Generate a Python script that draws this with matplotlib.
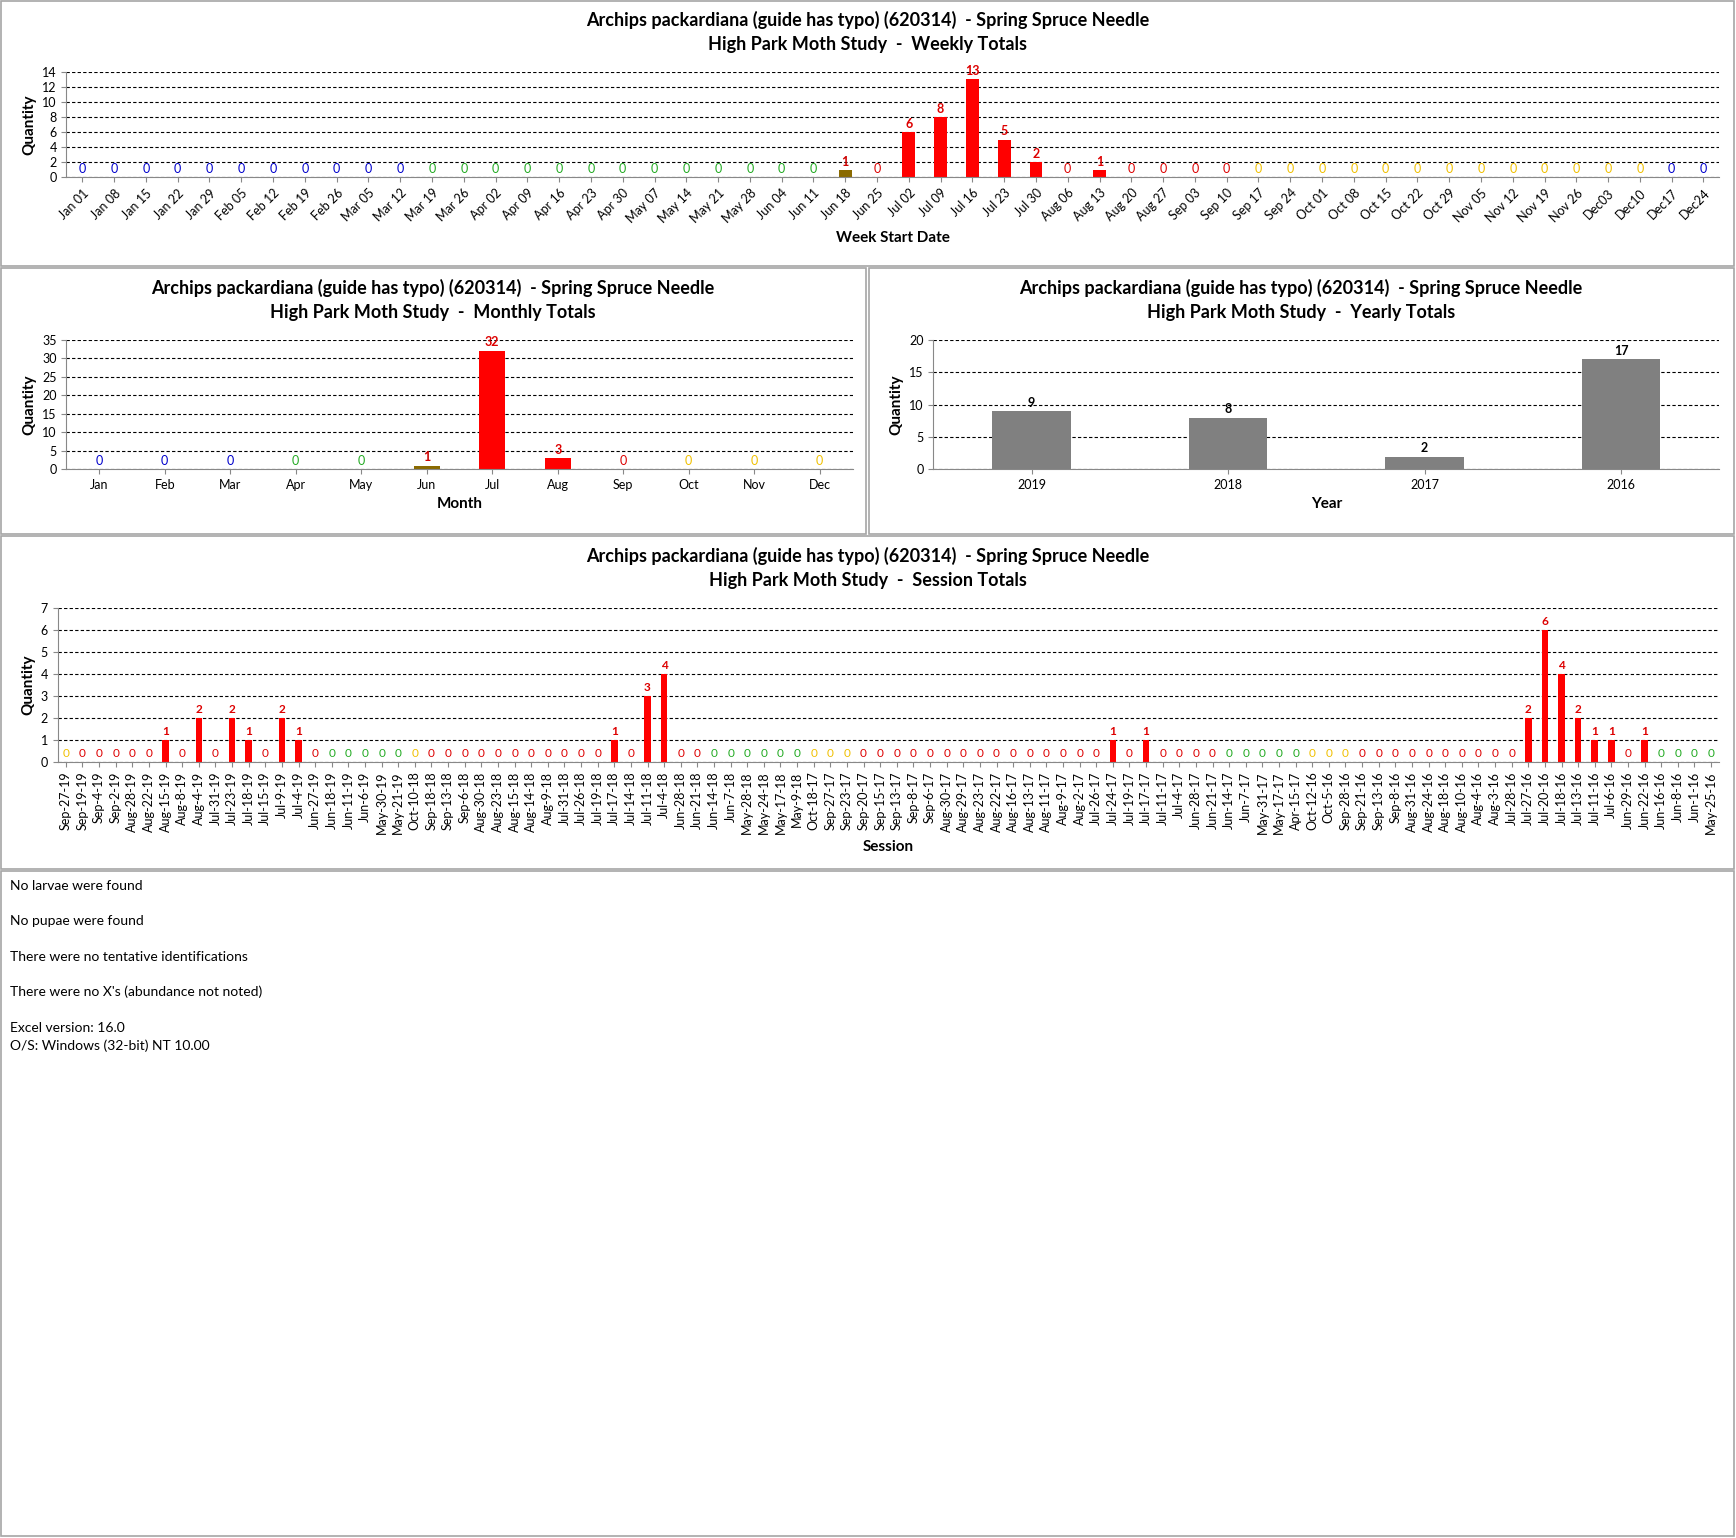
import matplotlib
matplotlib.use("Agg")
import matplotlib.pyplot as plt
from matplotlib.patches import Rectangle

plt.rcParams['font.family'] = ['Lato', 'DejaVu Sans']

TITLE1 = "Archips packardiana (guide has typo) (620314)  - Spring Spruce Needle"

weeks = ["Jan 01","Jan 08","Jan 15","Jan 22","Jan 29","Feb 05","Feb 12","Feb 19","Feb 26","Mar 05","Mar 12",
         "Mar 19","Mar 26","Apr 02","Apr 09","Apr 16","Apr 23","Apr 30","May 07","May 14","May 21","May 28",
         "Jun 04","Jun 11","Jun 18","Jun 25","Jul 02","Jul 09","Jul 16","Jul 23","Jul 30","Aug 06","Aug 13",
         "Aug 20","Aug 27","Sep 03","Sep 10","Sep 17","Sep 24","Oct 01","Oct 08","Oct 15","Oct 22","Oct 29",
         "Nov 05","Nov 12","Nov 19","Nov 26","Dec03","Dec10","Dec17","Dec24"]
week_vals = [0]*24 + [1, 0, 6, 8, 13, 5, 2, 0, 1] + [0]*19
week_season = ["b"]*11 + ["g"]*13 + ["o"] + ["r"]*12 + ["y"]*13 + ["b"]*2

months = ["Jan","Feb","Mar","Apr","May","Jun","Jul","Aug","Sep","Oct","Nov","Dec"]
month_vals = [0, 0, 0, 0, 0, 1, 32, 3, 0, 0, 0, 0]
month_season = ["b","b","b","g","g","o","r","r","r","y","y","y"]

years = ["2019", "2018", "2017", "2016"]
year_vals = [9, 8, 2, 17]

sessions = ["Sep-27-19","Sep-19-19","Sep-4-19","Sep-2-19","Aug-28-19","Aug-22-19","Aug-15-19","Aug-8-19",
            "Aug-4-19","Jul-31-19","Jul-23-19","Jul-18-19","Jul-15-19","Jul-9-19","Jul-4-19","Jun-27-19",
            "Jun-18-19","Jun-11-19","Jun-6-19","May-30-19","May-21-19","Oct-10-18","Sep-18-18","Sep-13-18",
            "Sep-6-18","Aug-30-18","Aug-23-18","Aug-15-18","Aug-14-18","Aug-9-18","Jul-31-18","Jul-26-18",
            "Jul-19-18","Jul-17-18","Jul-14-18","Jul-11-18","Jul-4-18","Jun-28-18","Jun-21-18","Jun-14-18",
            "Jun-7-18","May-28-18","May-24-18","May-17-18","May-9-18","Oct-18-17","Sep-27-17","Sep-23-17",
            "Sep-20-17","Sep-15-17","Sep-13-17","Sep-8-17","Sep-6-17","Aug-30-17","Aug-29-17","Aug-23-17",
            "Aug-22-17","Aug-16-17","Aug-13-17","Aug-11-17","Aug-9-17","Aug-2-17","Jul-26-17","Jul-24-17",
            "Jul-19-17","Jul-17-17","Jul-11-17","Jul-4-17","Jun-28-17","Jun-21-17","Jun-14-17","Jun-7-17",
            "May-31-17","May-17-17","Apr-15-17","Oct-12-16","Oct-5-16","Sep-28-16","Sep-21-16","Sep-13-16",
            "Sep-8-16","Aug-31-16","Aug-24-16","Aug-18-16","Aug-10-16","Aug-4-16","Aug-3-16","Jul-28-16",
            "Jul-27-16","Jul-20-16","Jul-18-16","Jul-13-16","Jul-11-16","Jul-6-16","Jun-29-16","Jun-22-16",
            "Jun-16-16","Jun-8-16","Jun-1-16","May-25-16"]
session_vals = ([0]*6 + [1, 0, 2, 0, 2, 1, 0, 2, 1] + [0]*18 + [1, 0, 3, 4] + [0]*26 + [1, 0, 1]
                + [0]*22 + [2, 6, 4, 2, 1, 1, 0, 1] + [0]*4)
session_season = (["y"] + ["r"]*15 + ["g"]*5 + ["y"] + ["r"]*17 + ["g"]*6 + ["y"]*3 + ["r"]*22 + ["g"]*5
                  + ["y"]*3 + ["r"]*18 + ["g"]*4)

LBL = {"b": "#0000cc", "g": "#22aa22", "r": "#dd0000", "y": "#f0c000", "o": "#cc0000"}
BAR = {"b": "red", "g": "red", "r": "red", "y": "red", "o": "#8a6a00"}

fig = plt.figure(figsize=(17.36, 15.38), dpi=100)
W, H = 1568, 1389

def frac(x0, y0, x1, y1):
    return [x0 / W, 1 - y1 / H, (x1 - x0) / W, (y1 - y0) / H]

for (x0, y0, x1, y1) in [(1, 1, 1566, 240), (1, 242, 782, 482), (785, 242, 1566, 482), (1, 484, 1566, 785), (1, 787, 1566, 1387)]:
    fig.patches.append(Rectangle((x0 / W, 1 - y1 / H), (x1 - x0) / W, (y1 - y0) / H,
                                 transform=fig.transFigure, fill=False, ec="#a6a6a6", lw=1.2))

def style(ax, ymax, step, xlabel, rot, fs=9):
    ax.set_ylim(0, ymax)
    ax.set_yticks(range(0, ymax + 1, step))
    ax.yaxis.grid(True, ls=(0, (3, 2)), color="black", lw=0.8)
    ax.set_axisbelow(True)
    for s in ["top", "right"]:
        ax.spines[s].set_visible(False)
    ax.spines["left"].set_color("#888888")
    ax.spines["bottom"].set_color("#888888")
    ax.tick_params(axis="both", labelsize=fs, colors="black", color="#888888")
    ax.set_ylabel("Quantity", fontsize=11, fontweight="bold")
    ax.set_xlabel(xlabel, fontsize=11, fontweight="bold")

def title(x, y, sub):
    fig.text(x / W, 1 - y / H, TITLE1 + "\nHigh Park Moth Study  -  " + sub, ha="center", va="top",
             fontsize=13, fontweight="bold", linespacing=1.5)

def bars(ax, labels, vals, seasons, ymax, width=0.4, fs=9):
    xs = list(range(len(labels)))
    ax.bar(xs, vals, width=width, color=[BAR[s] for s in seasons])
    off = ymax * 0.02
    for x, v, s in zip(xs, vals, seasons):
        ax.text(x, v + off, str(v), ha="center", va="bottom", fontsize=fs, fontweight="bold" if v else "normal",
                color=LBL[s])
    ax.set_xlim(-0.5, len(labels) - 0.5)
    ax.set_xticks(xs)

# Weekly
title(784, 10, "Weekly Totals")
ax1 = fig.add_axes(frac(60, 65, 1553, 160))
bars(ax1, weeks, week_vals, week_season, 14, width=0.4)
style(ax1, 14, 2, "Week Start Date", 45)
ax1.set_xticklabels(weeks, rotation=45, ha="right", rotation_mode="anchor")

# Monthly
title(391, 252, "Monthly Totals")
ax2 = fig.add_axes(frac(60, 307, 770, 424))
bars(ax2, months, month_vals, month_season, 35, width=0.4)
style(ax2, 35, 5, "Month", 0)
ax2.set_xticklabels(months)

# Yearly
title(1175, 252, "Yearly Totals")
ax3 = fig.add_axes(frac(843, 307, 1553, 424))
xs = list(range(len(years)))
ax3.bar(xs, year_vals, width=0.4, color="#808080")
for x, v in zip(xs, year_vals):
    ax3.text(x, v + 0.4, str(v), ha="center", va="bottom", fontsize=9, fontweight="bold")
ax3.set_xlim(-0.5, len(years) - 0.5)
ax3.set_xticks(xs)
ax3.set_xticklabels(years)
style(ax3, 20, 5, "Year", 0)

# Session
title(784, 494, "Session Totals")
ax4 = fig.add_axes(frac(52, 549, 1553, 688))
bars(ax4, sessions, session_vals, session_season, 7, width=0.4, fs=8.5)
style(ax4, 7, 1, "Session", 90)
ax4.set_xticklabels(sessions, rotation=90)

notes = [(800, "No larvae were found"), (832, "No pupae were found"), (864, "There were no tentative identifications"),
         (896, "There were no X's (abundance not noted)"), (928, "Excel version: 16.0"), (944, "O/S: Windows (32-bit) NT 10.00")]
for y, t in notes:
    fig.text(9 / W, 1 - y / H, t, fontsize=10, va="center")

fig.savefig("out.png", dpi=100, facecolor="white")
